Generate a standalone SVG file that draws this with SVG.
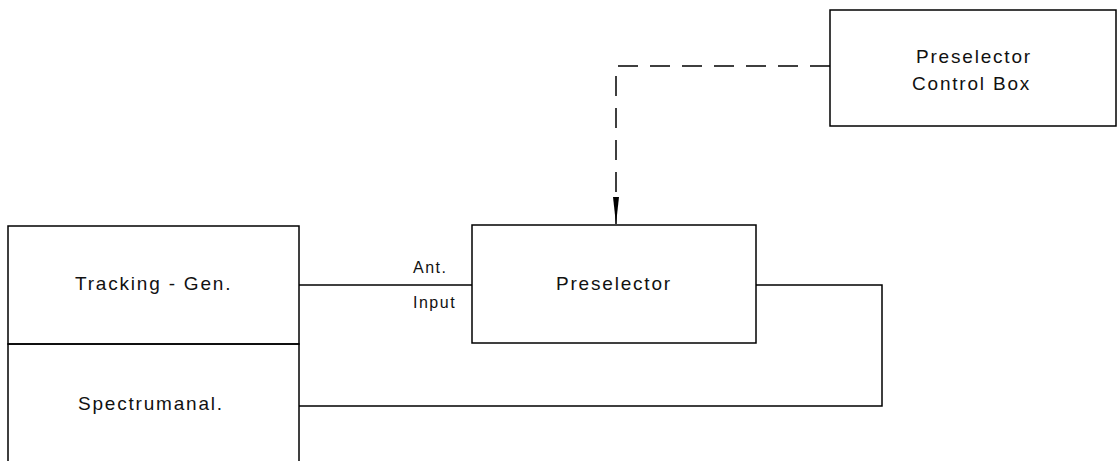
<svg xmlns="http://www.w3.org/2000/svg" width="1119" height="461" viewBox="0 0 1119 461">
<defs>
<style>
.box{fill:none;stroke:#000;stroke-width:1.5}
.line{fill:none;stroke:#000;stroke-width:1.5}
.dash{fill:none;stroke:#000;stroke-width:1.5;stroke-dasharray:20 12}
text{font-family:"Liberation Sans",Arial,sans-serif;font-size:19px;letter-spacing:1.8px;fill:#111}
.small{font-size:16px;letter-spacing:1.5px}
</style>
<marker id="arrow" markerUnits="userSpaceOnUse" markerWidth="28" markerHeight="8" refX="27" refY="4" orient="auto" viewBox="0 0 28 8">
<path d="M0,1 L27,4 L0,7 Z" fill="#000"/>
</marker>
</defs>
<rect width="1119" height="461" fill="#fff"/>
<g id="control-box">
<rect class="box" x="830" y="10" width="286" height="116"/>
<text x="916" y="63">Preselector</text>
<text x="912" y="90">Control Box</text>
</g>
<g id="preselector">
<rect class="box" x="472" y="225" width="284" height="118"/>
<text x="556" y="290">Preselector</text>
</g>
<g id="tracking-gen">
<rect class="box" x="8" y="226" width="291" height="118"/>
<text x="75" y="290">Tracking - Gen.</text>
</g>
<g id="spectrumanal">
<rect class="box" x="8" y="344" width="291" height="130"/>
<text x="78" y="410">Spectrumanal.</text>
</g>
<g id="connectors">
<path class="dash" d="M830,66 H616 V224" marker-end="url(#arrow)"/>
<path class="line" d="M299,285 H472"/>
<text class="small" x="413" y="273">Ant.</text>
<text class="small" x="413" y="308">Input</text>
<path class="line" d="M756,285 H882 V406 H299"/>
</g>
</svg>
